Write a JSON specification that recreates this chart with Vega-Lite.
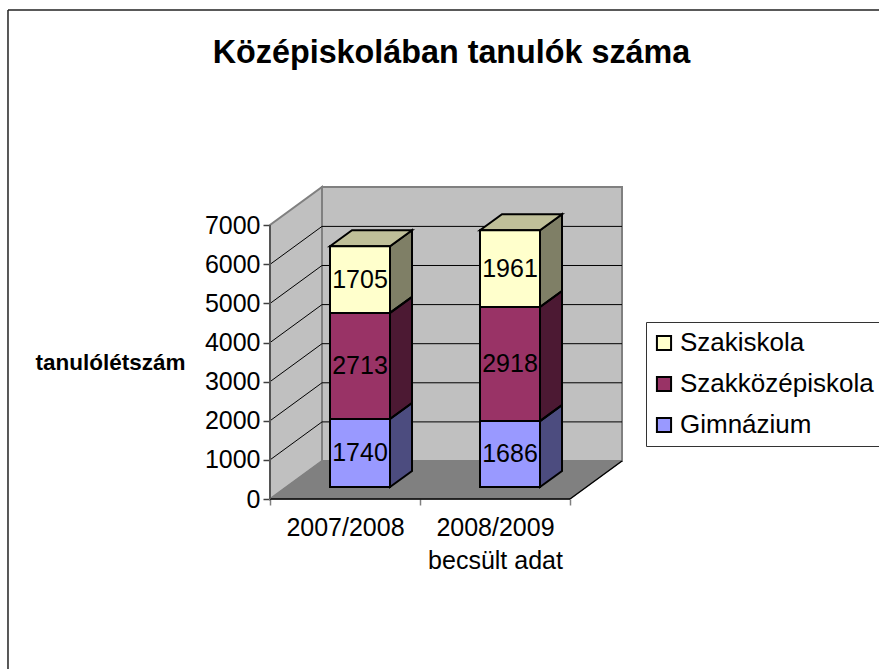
{
"$schema":"https://vega.github.io/schema/vega-lite/v6.json",
"width":879,"height":669,"padding":0,"autosize":{"type":"none"},
"background":"white",
"config":{"view":{"stroke":null},"font":"Liberation Sans"},
"title":{"text":"Középiskolában tanulók száma","font":"Liberation Sans","fontSize":32.3,"fontWeight":"bold","color":"#000000","anchor":"middle","frame":"group","offset":0,"dx":12,"dy":69},
"datasets":{
"students":[
{"year":"2007/2008","pos":0.5,"school":"Gimnázium","rank":1,"value":1740},
{"year":"2007/2008","pos":0.5,"school":"Szakközépiskola","rank":2,"value":2713},
{"year":"2007/2008","pos":0.5,"school":"Szakiskola","rank":3,"value":1705},
{"year":"2008/2009","pos":1.5,"school":"Gimnázium","rank":1,"value":1686},
{"year":"2008/2009","pos":1.5,"school":"Szakközépiskola","rank":2,"value":2918},
{"year":"2008/2009","pos":1.5,"school":"Szakiskola","rank":3,"value":1961}
],
"backWall":[{"x":0.3467,"y":972,"y2":7980},{"x":2.3467,"y":972,"y2":7980}],
"sideWall":[{"x":0,"y":0,"y2":7008},{"x":0.3467,"y":972,"y2":7980}],
"floor":[{"x":0,"y":0,"y2":0},{"x":0.3467,"y":972,"y2":0},{"x":2,"y":972,"y2":0},{"x":2.3467,"y":972,"y2":972}],
"grid":[
{"x":0,"x2":0.3467,"y":1000,"y2":1972},{"x":0,"x2":0.3467,"y":2000,"y2":2972},{"x":0,"x2":0.3467,"y":3000,"y2":3972},{"x":0,"x2":0.3467,"y":4000,"y2":4972},{"x":0,"x2":0.3467,"y":5000,"y2":5972},{"x":0,"x2":0.3467,"y":6000,"y2":6972},
{"x":0.3467,"x2":2.3467,"y":1972,"y2":1972},{"x":0.3467,"x2":2.3467,"y":2972,"y2":2972},{"x":0.3467,"x2":2.3467,"y":3972,"y2":3972},{"x":0.3467,"x2":2.3467,"y":4972,"y2":4972},{"x":0.3467,"x2":2.3467,"y":5972,"y2":5972},{"x":0.3467,"x2":2.3467,"y":6972,"y2":6972}
],
"edges":[
{"x":0,"x2":2,"y":0,"y2":0},{"x":2,"x2":2.3467,"y":0,"y2":972}
],
"leftEdge":[{"x":0,"x2":0,"y":0,"y2":7008}],
"frame":[{"x":-1.7467,"x2":4.06,"y":12506,"y2":12506},{"x":-1.7467,"x2":-1.7467,"y":-4347,"y2":12506}],
"sides":[
{"face":"a1","school":"Gimnázium","x":0.8,"y":307,"y2":2047},{"face":"a1","school":"Gimnázium","x":0.9467,"y":716,"y2":2456},
{"face":"a2","school":"Szakközépiskola","x":0.8,"y":2047,"y2":4760},{"face":"a2","school":"Szakközépiskola","x":0.9467,"y":2456,"y2":5169},
{"face":"a3","school":"Szakiskola","x":0.8,"y":4760,"y2":6465},{"face":"a3","school":"Szakiskola","x":0.9467,"y":5169,"y2":6874},
{"face":"b1","school":"Gimnázium","x":1.8,"y":307,"y2":1993},{"face":"b1","school":"Gimnázium","x":1.9467,"y":716,"y2":2402},
{"face":"b2","school":"Szakközépiskola","x":1.8,"y":1993,"y2":4911},{"face":"b2","school":"Szakközépiskola","x":1.9467,"y":2402,"y2":5320},
{"face":"b3","school":"Szakiskola","x":1.8,"y":4911,"y2":6872},{"face":"b3","school":"Szakiskola","x":1.9467,"y":5320,"y2":7281}
],
"tops":[
{"face":"a","x":0.4,"y":6465,"y2":6465},{"face":"a","x":0.5467,"y":6874,"y2":6465},{"face":"a","x":0.8,"y":6874,"y2":6465},{"face":"a","x":0.9467,"y":6874,"y2":6874},
{"face":"b","x":1.4,"y":6872,"y2":6872},{"face":"b","x":1.5467,"y":7281,"y2":6872},{"face":"b","x":1.8,"y":7281,"y2":6872},{"face":"b","x":1.9467,"y":7281,"y2":7281}
]
},
"layer":[
{"data":{"name":"backWall"},"mark":{"type":"area","fill":"#C0C0C0","stroke":"#808080","strokeWidth":2},
 "encoding":{
  "x":{"field":"x","type":"quantitative","scale":{"domain":[-1.8,4.06],"nice":false,"zero":false,"padding":0},
   "axis":{"title":null,"grid":false,"domain":false,"orient":"bottom","offset":-170,"values":[0,0.5,1,1.5,2],"tickSize":6,"tickColor":"#808080","tickWidth":1.5,
    "tickOpacity":{"condition":{"test":"datum.value==0.5||datum.value==1.5","value":0},"value":1},
    "labelExpr":"datum.value==0.5?'2007/2008':datum.value==1.5?['2008/2009','becsült adat']:''",
    "labelFont":"Liberation Sans","labelFontSize":25,"labelColor":"#000000","labelPadding":10,"labelLineHeight":33,"labelOverlap":false,"labelBound":false,"labelFlush":false}},
  "y":{"field":"y","type":"quantitative","stack":null,"scale":{"domain":[-4347.8,12762.1],"nice":false,"zero":false,"padding":0},
   "axis":{"title":"tanulólétszám","titleFont":"Liberation Sans","titleFontSize":22.5,"titleFontWeight":"bold","titleColor":"#000000","titleAngle":0,"titleAlign":"center","titleBaseline":"middle","titleX":-160,"titleY":362,
    "grid":false,"domain":false,"orient":"left","offset":-270,"values":[0,1000,2000,3000,4000,5000,6000,7000],"format":"d","tickSize":7,"tickColor":"#404040","tickWidth":1.5,
    "labelFont":"Liberation Sans","labelFontSize":25,"labelColor":"#000000","labelPadding":3,"labelOverlap":false,"labelBound":false,"labelFlush":false}},
  "y2":{"field":"y2"}}},
{"data":{"name":"sideWall"},"mark":{"type":"area","fill":"#C0C0C0","stroke":"#808080","strokeWidth":2},
 "encoding":{"x":{"field":"x","type":"quantitative"},"y":{"field":"y","type":"quantitative","stack":null},"y2":{"field":"y2"}}},
{"data":{"name":"floor"},"mark":{"type":"area","fill":"#808080","stroke":"#808080","strokeWidth":1},
 "encoding":{"x":{"field":"x","type":"quantitative"},"y":{"field":"y","type":"quantitative","stack":null},"y2":{"field":"y2"}}},
{"data":{"name":"grid"},"mark":{"type":"rule","color":"#000000","strokeWidth":1},
 "encoding":{"x":{"field":"x","type":"quantitative"},"x2":{"field":"x2"},"y":{"field":"y","type":"quantitative"},"y2":{"field":"y2"}}},
{"data":{"name":"edges"},"mark":{"type":"rule","color":"#000000","strokeWidth":1.5},
 "encoding":{"x":{"field":"x","type":"quantitative"},"x2":{"field":"x2"},"y":{"field":"y","type":"quantitative"},"y2":{"field":"y2"}}},
{"data":{"name":"leftEdge"},"mark":{"type":"rule","color":"#555555","strokeWidth":2},
 "encoding":{"x":{"field":"x","type":"quantitative"},"x2":{"field":"x2"},"y":{"field":"y","type":"quantitative"},"y2":{"field":"y2"}}},
{"data":{"name":"frame"},"mark":{"type":"rule","color":"#222222","strokeWidth":1.5},
 "encoding":{"x":{"field":"x","type":"quantitative"},"x2":{"field":"x2"},"y":{"field":"y","type":"quantitative"},"y2":{"field":"y2"}}},
{"data":{"name":"sides"},"mark":{"type":"area"},
 "encoding":{"x":{"field":"x","type":"quantitative"},"y":{"field":"y","type":"quantitative","stack":null},"y2":{"field":"y2"},"detail":{"field":"face"},
  "color":{"field":"school","type":"nominal",
   "scale":{"domain":["Szakiskola","Szakközépiskola","Gimnázium"],"range":["#FFFFCC","#993366","#9999FF"]},
   "legend":{"title":null,"orient":"none","legendX":646,"legendY":322,"direction":"vertical","strokeColor":"#333333","fillColor":"#FFFFFF","padding":8,
    "symbolType":"square","symbolSize":200,"symbolStrokeColor":"#000000","symbolStrokeWidth":2,"symbolOpacity":1,"symbolOffset":-3,
    "labelFont":"Liberation Sans","labelFontSize":26,"labelColor":"#000000","labelOffset":3,"labelLimit":400,"rowPadding":15,
    "values":["Szakiskola","Szakközépiskola","Gimnázium"]}}}},
{"data":{"name":"sides"},"mark":{"type":"area","fill":"#000000","fillOpacity":0.5,"stroke":"#000000","strokeWidth":2},
 "encoding":{"x":{"field":"x","type":"quantitative"},"y":{"field":"y","type":"quantitative","stack":null},"y2":{"field":"y2"},"detail":{"field":"face"}}},
{"data":{"name":"tops"},"mark":{"type":"area","fill":"#BFBF99","stroke":"#000000","strokeWidth":2},
 "encoding":{"x":{"field":"x","type":"quantitative"},"y":{"field":"y","type":"quantitative","stack":null},"y2":{"field":"y2"},"detail":{"field":"face"}}},
{"data":{"name":"students"},"mark":{"type":"bar","orient":"vertical","size":60,"xOffset":15,"yOffset":-12,"stroke":"#000000","strokeWidth":2},
 "encoding":{"x":{"field":"pos","type":"quantitative"},
  "y":{"field":"value","type":"quantitative","stack":"zero"},
  "order":{"field":"rank"},
  "color":{"field":"school","type":"nominal"}}},
{"data":{"name":"students"},"mark":{"type":"text","font":"Liberation Sans","fontSize":25,"color":"#000000","baseline":"middle","dx":15,"dy":-12},
 "encoding":{"x":{"field":"pos","type":"quantitative"},
  "y":{"field":"value","type":"quantitative","stack":"zero","bandPosition":0.5},
  "order":{"field":"rank"},"detail":{"field":"school"},
  "text":{"field":"value","type":"quantitative","format":"d"}}}
]
}
